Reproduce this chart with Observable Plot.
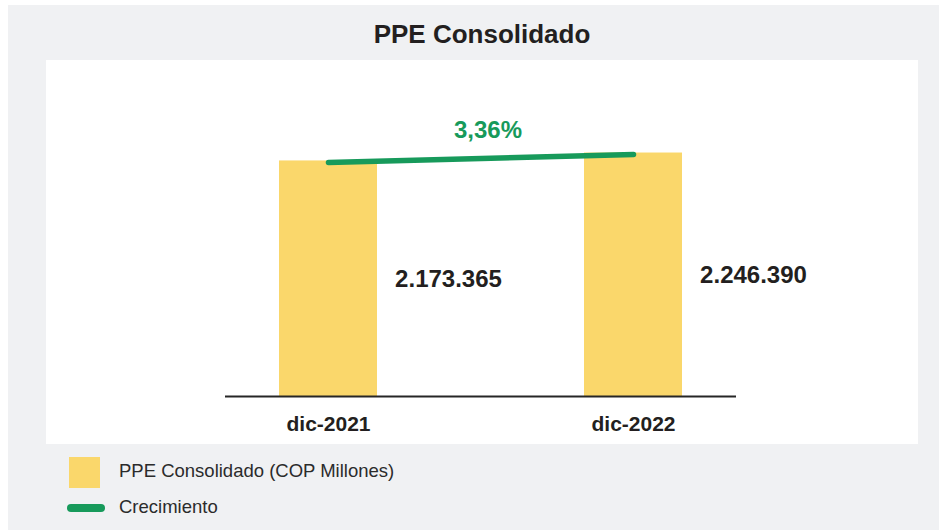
<!DOCTYPE html>
<html>
<head>
<meta charset="utf-8">
<script src="https://cdn.jsdelivr.net/npm/d3@7"></script>
<script src="https://cdn.jsdelivr.net/npm/@observablehq/plot@0.6"></script>
<style>
  body { margin: 0; width: 939px; height: 530px; background: #ffffff; position: relative; overflow: hidden; font-family: "Liberation Sans", Arial, sans-serif; }
  .abs { position: absolute; }
  #outer { left: 8px; top: 5px; width: 931px; height: 525px; background: #f0f1f3; }
  #panel { left: 46px; top: 60px; width: 872px; height: 384px; background: #ffffff; }
  #title { left: 46px; top: 21px; width: 872px; text-align: center; font-weight: bold; font-size: 26px; line-height: 26px; color: #231f20; }
  #chart { left: 46px; top: 60px; }
  .legtext { font-size: 18.5px; line-height: 18.5px; color: #2b2b2b; left: 119px; white-space: nowrap; }
  #sw1 { left: 69px; top: 457px; width: 31px; height: 31px; }
  #sw2 { left: 67px; top: 504px; width: 38px; height: 8px; border-radius: 4px; }
</style>
</head>
<body>
<div id="outer" class="abs"></div>
<div id="panel" class="abs"></div>
<div id="title" class="abs">PPE Consolidado</div>
<div id="chart" class="abs"></div>
<div id="sw1" class="abs"></div>
<div id="lt1" class="abs legtext" style="top:462px"></div>
<div id="sw2" class="abs"></div>
<div id="lt2" class="abs legtext" style="top:498px"></div>
<script>
// ---- data ----
const categories = ["dic-2021", "dic-2022"];
const values = [2173365, 2246390];
const seriesBar = "PPE Consolidado (COP Millones)";
const seriesLine = "Crecimiento";

// ---- styling ----
const yellow = "#fad76b";
const green = "#179a5b";
const ink = "#231f20";

const locale = d3.formatLocale({decimal: ",", thousands: ".", grouping: [3], currency: ["", ""]});
const fmtInt = locale.format(",d");
const fmtPct = locale.format(".2f");

const data = categories.map((c, i) => ({cat: c, value: values[i]}));
const growth = (values[1] / values[0] - 1) * 100;
const growthLabel = fmtPct(growth) + "%";

document.getElementById("sw1").style.background = yellow;
document.getElementById("sw2").style.background = green;
document.getElementById("lt1").textContent = seriesBar;
document.getElementById("lt2").textContent = seriesLine;

const chart = Plot.plot({
  width: 872,
  height: 384,
  marginLeft: 179,
  marginRight: 182,
  marginTop: 0,
  marginBottom: 48,
  style: {background: "transparent", fontFamily: "'Liberation Sans', Arial, sans-serif", color: ink, overflow: "visible"},
  x: {domain: categories, paddingInner: 0.679, paddingOuter: 0.177, axis: null, label: null},
  y: {domain: [0, 3100000], axis: null},
  marks: [
    Plot.barY(data, {x: "cat", y: "value", fill: yellow}),
    Plot.ruleY([0], {stroke: "#262626", strokeWidth: 2}),
    Plot.axisX({tickSize: 0, tickPadding: 20, fontSize: 21, fontWeight: "bold", fill: ink, label: null}),
    Plot.line(data, {x: "cat", y: "value", stroke: green, strokeWidth: 5.5, strokeLinecap: "round", dy: 1.5}),
    Plot.text(data, {x: "cat", y: d => d.value / 2, text: d => fmtInt(d.value), dx: 120, dy: 1, fontSize: 24, fontWeight: "bold", fill: ink, lineAnchor: "middle"}),
    Plot.text([growthLabel], {frameAnchor: "top", text: d => d, dx: 7, dy: 77, lineAnchor: "bottom", fontSize: 24, fontWeight: "bold", fill: green})
  ]
});
document.getElementById("chart").appendChild(chart);
</script>
</body>
</html>
